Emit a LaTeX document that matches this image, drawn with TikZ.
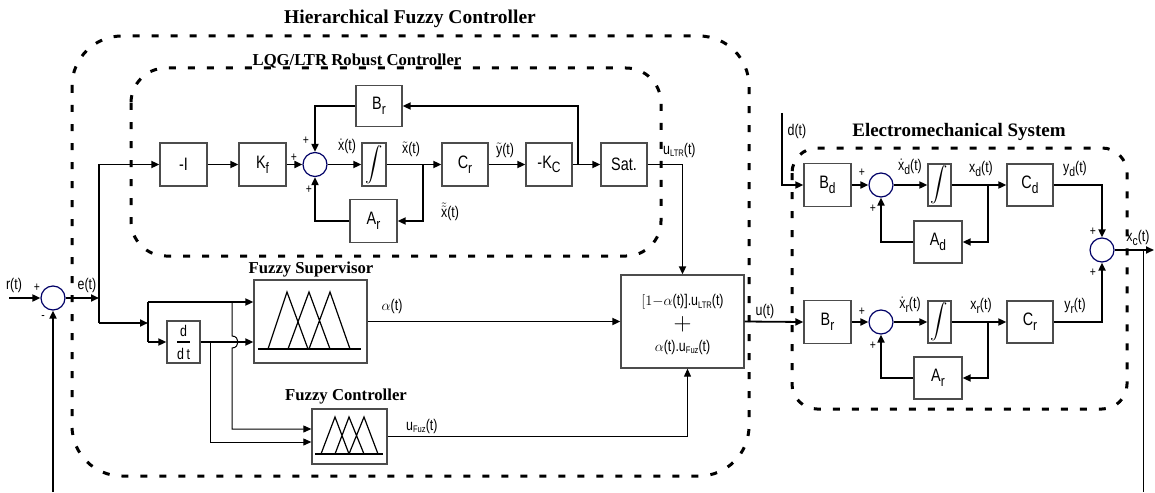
\documentclass[tikz,border=0pt]{standalone}
\usepackage{amsmath}
\usepackage{fontspec}
\setmainfont{Liberation Serif}
\newfontfamily\lblfont[FakeStretch=0.8]{Liberation Sans}
\usetikzlibrary{arrows.meta,positioning,calc}

\newcommand{\blkfnt}{\lblfont\fontsize{18}{20}\selectfont}
\newcommand{\sigfnt}{\lblfont\fontsize{15.5}{17}\selectfont}
\newcommand{\blksub}[1]{\raisebox{-0.5ex}{\fontsize{15}{15}\selectfont#1}}
\newcommand{\lblsub}[1]{\raisebox{-0.45ex}{\fontsize{13}{13}\selectfont#1}}
\newcommand{\lblsc}[1]{\raisebox{-0.3ex}{\fontsize{9.5}{9.5}\selectfont#1}}

\tikzset{
  blk/.style={draw=black!70, line width=1.3pt, minimum width=47pt, minimum height=43pt, inner sep=0pt, font=\blkfnt},
  sumc/.style={circle, draw=blue!40!black, line width=1.2pt, minimum size=24pt, inner sep=0pt},
  lab/.style={font=\sigfnt, inner sep=0pt},
  pm/.style={font=\lblfont\fontsize{13}{13}\selectfont, inner sep=0pt},
  ttl/.style={font=\bfseries\fontsize{16.7}{18}\selectfont, inner sep=0pt},
  grp/.style={line width=3pt, dash pattern=on 7pt off 12pt},
  wr/.style={line width=1.8pt, -{Triangle[length=8pt,width=7pt]}},
  tw/.style={line width=1pt, -{Triangle[length=8pt,width=7pt]}},
  tn/.style={line width=1pt},
  ln/.style={line width=1.8pt},
  mf/.style={line width=1.2pt},
  mfb/.style={line width=2pt}
}

\begin{document}
\begin{tikzpicture}[x=1pt,y=-1pt]
\useasboundingbox (0,0) rectangle (1155,492);

%% dashed groups
\draw[grp, rounded corners=50pt] (72,36) rectangle (749,476);
\draw[grp, rounded corners=35pt] (131,68) rectangle (661,256);
\draw[grp, rounded corners=25pt] (792,148) rectangle (1127,409);
\node[ttl, font=\bfseries\fontsize{19.5}{21}\selectfont] (hfcT) at (410,19) {Hierarchical Fuzzy Controller};
\node[ttl] (lqgT) at (357,61) {LQG/LTR Robust Controller};
\node[ttl, font=\bfseries\fontsize{19}{21}\selectfont] (emT) at (959,132) {Electromechanical System};

%% error sum
\node[sumc] (sumE) at (53,298) {};
\coordinate (rIn) at (9,298);
\coordinate (fbL) at (53,492);
\node[lab] (rLab) at (14,285) {r(t)};
\node[lab] (eLab) at (87,285) {e(t)};
\node[pm] (ePlus) at (37,288) {+};
\node[pm] (eMinus) at (43,318) {-};

%% LQG/LTR blocks
\node[blk] (negI) at (183.5,164.5) {-I};
\node[blk] (Kf) at (262.5,164.5) {K\blksub{f}};
\node[sumc] (sumA) at (315,164.5) {};
\node[blk, minimum width=24pt] (intA) at (374,164.5) {\fontsize{16}{16}\selectfont$\displaystyle\int$};
\node[blk, minimum width=46pt, minimum height=41pt] (BrA) at (379,106) {B\blksub{r}};
\node[blk] (ArA) at (373.5,221) {A\blksub{r}};
\node[blk, minimum width=46pt] (CrA) at (465,164.5) {C\blksub{r}};
\node[blk, minimum width=46pt] (Kc) at (549,164.5) {-K\blksub{C}};
\node[blk, minimum width=46pt] (sat) at (624,164.5) {Sat.};

%% fuzzy blocks
\node[blk, minimum width=33pt, minimum height=42pt, font=\sigfnt] (ddt) at (183.5,342) {$\genfrac{}{}{1.6pt}{0}{\text{d}}{\text{d\,t}}$};
\node[blk, minimum width=113pt, minimum height=83pt] (fsup) at (310.5,321.5) {};
\node[ttl] (fsT) at (311,270) {Fuzzy Supervisor};
\node[blk, minimum width=75pt, minimum height=55pt] (fcon) at (349.5,436.5) {};
\node[ttl] (fcT) at (346,397) {Fuzzy Controller};
\node[blk, minimum width=123pt, minimum height=93pt] (comb) at (682.5,321.5) {};
\node[lab] (combA) at ($(comb.center)+(0,-19.5)$) {$[1{-}\alpha$(t)].u\lblsc{LTR}(t)};
\node[inner sep=0pt, font=\fontsize{24}{24}\selectfont] (combP) at ($(comb.center)+(0,3)$) {$+$};
\node[lab] (combB) at ($(comb.center)+(0,25.5)$) {$\alpha$(t).u\lblsc{Fuz}(t)};

% membership functions
\draw[mf] (268,349) -- (287,292) -- (308,349) (288,349) -- (309,292) -- (330,349) (309,349) -- (330,292) -- (350,349);
\draw[mfb] (258,349) -- (361,349);
\draw[mf] (321,454) -- (335,417) -- (349,454) (335,454) -- (349,417) -- (364,454) (349,454) -- (364,417) -- (378,454);
\draw[mfb] (315,454) -- (383,454);

%% electromechanical blocks
\node[blk] (Bd) at (827.5,185) {B\blksub{d}};
\node[sumc] (sumD) at (881,185) {};
\node[blk, minimum width=23pt, minimum height=42pt] (intD) at (939.5,185) {\fontsize{16}{16}\selectfont$\displaystyle\int$};
\node[blk, minimum width=46pt, minimum height=42pt] (Cd) at (1030,185) {C\blksub{d}};
\node[blk, minimum width=48pt, minimum height=42pt] (Ad) at (938,242) {A\blksub{d}};
\node[blk] (Br2) at (827.5,322) {B\blksub{r}};
\node[sumc] (sumR) at (881,322) {};
\node[blk, minimum width=23pt, minimum height=42pt] (intR) at (939.5,322) {\fontsize{16}{16}\selectfont$\displaystyle\int$};
\node[blk, minimum width=46pt, minimum height=42pt] (Cr2) at (1030,322) {C\blksub{r}};
\node[blk, minimum width=48pt, minimum height=42pt] (Ar2) at (938,378) {A\blksub{r}};
\node[sumc] (sumO) at (1102,250) {};

%% main path
\coordinate (eA) at (99,298);
\coordinate (eC) at (99,323);
\coordinate (fB) at (148,323);
\coordinate (fT) at (148,302);
\coordinate (fD) at (148,342);
\draw[wr] (rIn) -- (sumE.west);
\draw[wr] (fbL) -- (sumE.south);
\draw[wr] (sumE.east) -- (eA);
\draw[wr] (eC) |- (negI.west);
\draw[wr] (eC) -- (fB);
\draw[ln] (fT) -- (fD);
\draw[wr] (fT) -- (fsup.west |- fT);
\draw[wr] (fD) -- (ddt.west);
\draw[wr] (ddt.east) -- (fsup.west |- ddt.east);
% branches to fuzzy controller, with a hop
\coordinate (hT) at (232,302);
\coordinate (dB) at (210,342);
\draw[tw] (hT) -- ++(0,34) .. controls +(8,0) and +(8,0) .. ++(0,12) |- ($(fcon.west)+(0,-7.5)$);
\draw[tw] (dB) |- ($(fcon.west)+(0,5.5)$);
\draw[wr] (fsup.east) -- (comb.west);
\node[lab] (aLab) at (392,306) {$\alpha$(t)};
\draw[tw] (fcon.east) -| ($(comb.south)+(5,0)$);
\node[lab, anchor=west] (uFLab) at (406,426) {u\lblsc{Fuz}(t)};

%% LQG/LTR loop
\draw[wr] (negI) -- (Kf);
\draw[wr] (Kf) -- (sumA);
\draw[wr] (BrA.west) -| (sumA.north);
\draw[wr] (ArA.west) -| (sumA.south);
\draw[wr] (sumA) -- (intA);
\draw[wr] (intA) -- (CrA);
\draw[wr] (CrA) -- (Kc);
\draw[wr] (Kc) -- (sat);
\coordinate (kB) at (578,164.5);
\coordinate (xB) at (423,164.5);
\draw[wr] (kB) |- (BrA.east);
\draw[wr] (xB) |- (ArA.east);
\draw[wr] (sat.east) -| (comb.north);
\node[pm] at (294,158) {+};
\node[pm] at (306,141) {+};
\node[pm] at (309,190) {+};
\node[lab] (xdLab) at (347,146) {$\dot{\text{x}}$(t)};
\node[lab] (xhLab) at (411,149) {$\tilde{\text{x}}$(t)};
\node[lab] (yhLab) at (505,150) {$\tilde{\text{y}}$(t)};
\node[lab] (xeLab) at (450,212) {$\tilde{\tilde{\text{x}}}$(t)};
\node[lab, anchor=west] (uLLab) at (663,150) {u\lblsc{LTR}(t)};

%% electromechanical system
\coordinate (dIn) at (782,113);
\draw[wr] (dIn) |- (Bd.west);
\node[lab] (dLab) at (797,131) {d(t)};
\draw[wr] (comb.east) -- (Br2.west);
\node[lab] (uLab) at (765,311) {u(t)};
% d row
\draw[wr] (Bd) -- (sumD);
\draw[wr] (sumD) -- (intD);
\draw[wr] (intD) -- (Cd);
\coordinate (xdB) at (988,185);
\draw[wr] (xdB) |- (Ad.east);
\draw[wr] (Ad.west) -| (sumD.south);
\draw[wr] (Cd.east) -| (sumO.north);
\node[pm] at (862,173) {+};
\node[pm] at (873,209) {+};
\node[lab] at (910,167) {$\dot{\text{x}}$\lblsub{d}(t)};
\node[lab] at (981,169) {x\lblsub{d}(t)};
\node[lab] at (1075,169) {y\lblsub{d}(t)};
% r row
\draw[wr] (Br2) -- (sumR);
\draw[wr] (sumR) -- (intR);
\draw[wr] (intR) -- (Cr2);
\coordinate (xrB) at (988,322);
\draw[wr] (xrB) |- (Ar2.east);
\draw[wr] (Ar2.west) -| (sumR.south);
\draw[wr] (Cr2.east) -| (sumO.south);
\node[pm] at (862,312) {+};
\node[pm] at (873,346) {+};
\node[lab] at (910,305) {$\dot{\text{x}}$\lblsub{r}(t)};
\node[lab] at (981,306) {x\lblsub{r}(t)};
\node[lab] at (1075,306) {y\lblsub{r}(t)};
% output
\coordinate (xEnd) at (1154,250);
\coordinate (xJ) at (1143,250);
\coordinate (fbR) at (1143,492);
\draw[wr] (sumO) -- (xEnd);
\draw[tn] (xJ) -- (fbR);
\node[pm] at (1093,232) {+};
\node[pm] at (1093,273) {+};
\node[lab] (xcLab) at (1138,238) {x\lblsub{c}(t)};
\end{tikzpicture}
\end{document}
